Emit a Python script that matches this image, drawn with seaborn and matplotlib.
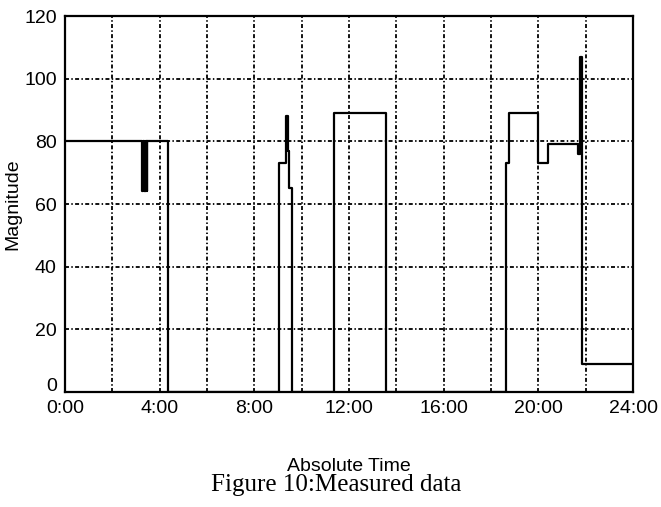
import numpy as np
import pandas as pd
import matplotlib
matplotlib.use('Agg')
import matplotlib.pyplot as plt
import matplotlib.transforms as mtransforms
import seaborn as sns

# step data: time in hours, value holds until next time
hours = [0.0, 3.27, 3.30, 3.33, 3.36, 3.39, 3.42, 3.45, 3.48, 3.51,
         4.37,
         9.05, 9.33, 9.42, 9.48, 9.58,
         11.35, 13.58,
         18.62, 18.75, 19.98, 20.40, 21.68, 21.75, 21.84, 24.0]
magnitude = [80, 64, 80, 64, 80, 64, 80, 64, 80, 80,
             0,
             73, 88, 77, 65, 0,
             89, 0,
             73, 89, 73, 79, 76, 107, 9, 9]

xtick_pos = [0, 4, 8, 12, 16, 20, 24]
xtick_labels = ['0:00', '4:00', '8:00', '12:00', '16:00', '20:00', '24:00']
ytick_pos = [0, 20, 40, 60, 80, 100, 120]

df = pd.DataFrame({'hours': hours, 'magnitude': magnitude})

sns.set_style('white')
plt.rcParams['font.family'] = ['Liberation Sans', 'DejaVu Sans']

fig = plt.figure(figsize=(6.61, 5.07), dpi=100)
ax = fig.add_axes([0.0983, 0.2268, 0.8594, 0.7416])

sns.lineplot(data=df, x='hours', y='magnitude', ax=ax, color='black',
             linewidth=1.6, drawstyle='steps-post', estimator=None, sort=False)

ax.set_xlim(0, 24)
ax.set_ylim(0, 120)
ax.set_xticks(xtick_pos)
ax.set_xticklabels(xtick_labels)
ax.set_xticks(np.arange(2, 24, 4), minor=True)
ax.set_yticks(ytick_pos)

grid_style = dict(color='black', linewidth=1.3, linestyle=(0, (2.2, 1.3, 0.8, 1.3)))
ax.grid(True, which='both', axis='x', **grid_style)
ax.grid(True, which='major', axis='y', **grid_style)
ax.set_axisbelow(True)

ax.tick_params(which='both', length=0, labelsize=14, pad=6, colors='black')
for s in ax.spines.values():
    s.set_color('black')
    s.set_linewidth(1.6)

# lift the "0" label so it sits above the 0:00 label
zero_lbl = ax.get_yticklabels()[0]
zero_lbl.set_verticalalignment('bottom')
zero_lbl.set_transform(zero_lbl.get_transform() +
                       mtransforms.ScaledTranslation(0, -2 / 72, fig.dpi_scale_trans))

ax.set_ylabel('Magnitude', fontsize=14, labelpad=2, color='black')
ax.set_xlabel('Absolute Time', fontsize=14, labelpad=29, color='black')

fig.text(0.508, 0.032, 'Figure 10:Measured data', ha='center', va='baseline',
         fontsize=18, family='Liberation Serif', color='black')

fig.savefig('out.png', dpi=100)
